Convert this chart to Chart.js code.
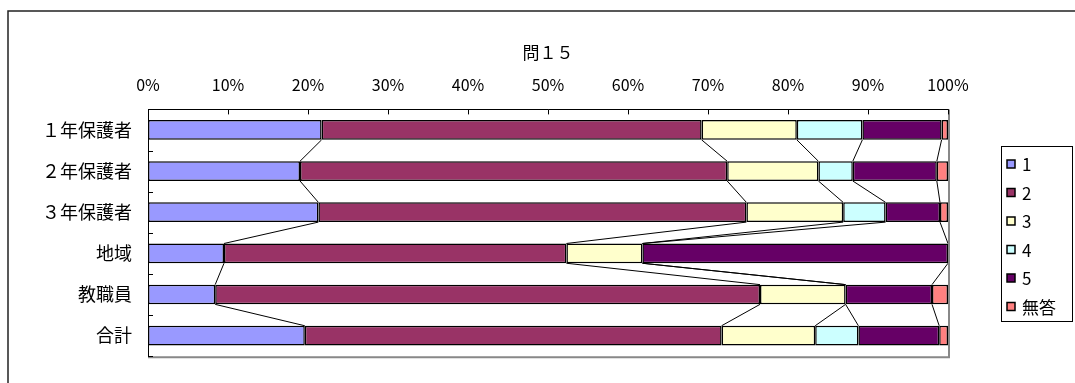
<!DOCTYPE html>
<html lang="ja">
<head>
<meta charset="utf-8">
<script src="https://cdn.jsdelivr.net/npm/chart.js@4.4.0/dist/chart.umd.min.js"></script>
<style>
  html, body { margin: 0; padding: 0; background: #fff; }
  canvas { display: block; }
</style>
</head>
<body>
<canvas id="chart" width="1075" height="383"></canvas>
<script>
// 問１５ の回答割合（%）
const categories = ['１年保護者', '２年保護者', '３年保護者', '地域', '教職員', '合計'];
const answerLabels = ['1', '2', '3', '4', '5', '無答'];
const answer1 = [21.7, 19.0, 21.3, 9.5, 8.4, 19.6];
const answer2 = [47.5, 53.4, 53.5, 42.8, 68.1, 52.1];
const answer3 = [11.9, 11.4, 12.1, 9.5, 10.7, 11.7];
const answer4 = [8.2, 4.3, 5.3, 0, 0, 5.4];
const answer5 = [9.9, 10.5, 6.8, 38.2, 10.8, 10.1];
const noAnswer = [0.8, 1.4, 1.0, 0, 2.0, 1.1];
const answerColors = ['#9999FF', '#993366', '#FFFFCC', '#CCFFFF', '#660066', '#FF8080'];

const JP = "'Noto Sans CJK JP', sans-serif";

// 外枠
const frame = {
  id: 'frame',
  beforeDraw(chart) {
    const ctx = chart.ctx;
    ctx.save();
    ctx.fillStyle = '#fff';
    ctx.fillRect(0, 0, chart.width, chart.height);
    ctx.strokeStyle = '#222';
    ctx.lineWidth = 1.5;
    ctx.strokeRect(8, 11, chart.width + 20, chart.height + 20);
    ctx.restore();
  }
};

// 区分線（隣り合う棒の境界を結ぶ線）
const seriesLines = {
  id: 'seriesLines',
  afterDatasetsDraw(chart) {
    const ctx = chart.ctx;
    const n = chart.data.labels.length;
    ctx.save();
    ctx.strokeStyle = '#000';
    ctx.lineWidth = 1;
    for (let d = 0; d < chart.data.datasets.length - 1; d++) {
      const bars = chart.getDatasetMeta(d).data;
      for (let i = 0; i < n - 1; i++) {
        const a = bars[i], b = bars[i + 1];
        ctx.beginPath();
        ctx.moveTo(a.x, a.y + a.height / 2);
        ctx.lineTo(b.x, b.y - b.height / 2);
        ctx.stroke();
      }
    }
    ctx.restore();
  }
};

// 内向きの目盛りとプロット枠
const innerTicks = {
  id: 'innerTicks',
  afterDraw(chart) {
    const { ctx, chartArea: a, scales: { x, y } } = chart;
    ctx.save();
    ctx.strokeStyle = '#888';
    ctx.lineWidth = 2;
    ctx.beginPath();
    ctx.moveTo(a.right + 1, a.top);
    ctx.lineTo(a.right + 1, a.bottom + 1);
    ctx.lineTo(a.left, a.bottom + 1);
    ctx.stroke();

    ctx.strokeStyle = '#000';
    ctx.lineWidth = 1;
    ctx.beginPath();
    x.ticks.forEach(t => {
      const px = Math.round(x.getPixelForValue(t.value)) + 0.5;
      ctx.moveTo(px, a.top);
      ctx.lineTo(px, a.top + 5);
    });
    for (let i = 0; i <= y.ticks.length; i++) {
      const py = Math.round(y.getPixelForValue(i - 0.5)) + 0.5;
      ctx.moveTo(a.left, py);
      ctx.lineTo(a.left + 5, py);
    }
    ctx.stroke();
    ctx.restore();
  }
};

// 凡例
const boxLegend = {
  id: 'boxLegend',
  afterDraw(chart) {
    const ctx = chart.ctx;
    ctx.save();
    ctx.strokeStyle = '#000';
    ctx.lineWidth = 1;
    ctx.strokeRect(1001.5, 146.5, 71, 175);
    ctx.font = '17px ' + JP;
    ctx.textBaseline = 'middle';
    chart.data.datasets.forEach((ds, i) => {
      const cy = 164 + i * 28.5;
      ctx.fillStyle = ds.backgroundColor;
      ctx.fillRect(1007, cy - 4, 8, 8);
      ctx.strokeStyle = '#000';
      ctx.lineWidth = 1.5;
      ctx.strokeRect(1007, cy - 4, 8, 8);
      ctx.fillStyle = '#000';
      ctx.fillText(ds.label, 1022, cy + 1);
    });
    ctx.restore();
  }
};

const series = [answer1, answer2, answer3, answer4, answer5, noAnswer];

new Chart(document.getElementById('chart'), {
  type: 'bar',
  data: {
    labels: categories,
    datasets: series.map((values, i) => ({
      label: answerLabels[i],
      data: values,
      backgroundColor: answerColors[i],
      borderColor: '#000',
      borderWidth: 1.5,
      borderSkipped: false,
      barPercentage: 0.48,
      categoryPercentage: 1
    }))
  },
  options: {
    indexAxis: 'y',
    responsive: false,
    animation: false,
    devicePixelRatio: 1,
    layout: { padding: { left: 0, top: 0, right: 127, bottom: 22 } },
    plugins: {
      legend: { display: false },
      tooltip: { enabled: false },
      title: {
        display: true,
        text: '問１５',
        fullSize: false,
        color: '#000',
        font: { family: JP, size: 17, weight: 'normal' },
        padding: { top: 42, bottom: 10 }
      }
    },
    scales: {
      x: {
        position: 'top',
        stacked: true,
        min: 0,
        max: 100,
        afterFit: s => { s.height = 37; },
        grid: { display: false, drawTicks: false },
        border: { display: true, color: '#000', width: 1 },
        ticks: {
          stepSize: 10,
          padding: 15,
          color: '#000',
          font: { family: JP, size: 16 },
          callback: v => v + '%'
        }
      },
      y: {
        stacked: true,
        afterFit: s => { s.width = 148; },
        grid: { display: false, drawTicks: false },
        border: { display: true, color: '#000', width: 1 },
        ticks: {
          padding: 16,
          autoSkip: false,
          color: '#000',
          font: { family: JP, size: 18 }
        }
      }
    }
  },
  plugins: [frame, seriesLines, innerTicks, boxLegend]
});
</script>
</body>
</html>
